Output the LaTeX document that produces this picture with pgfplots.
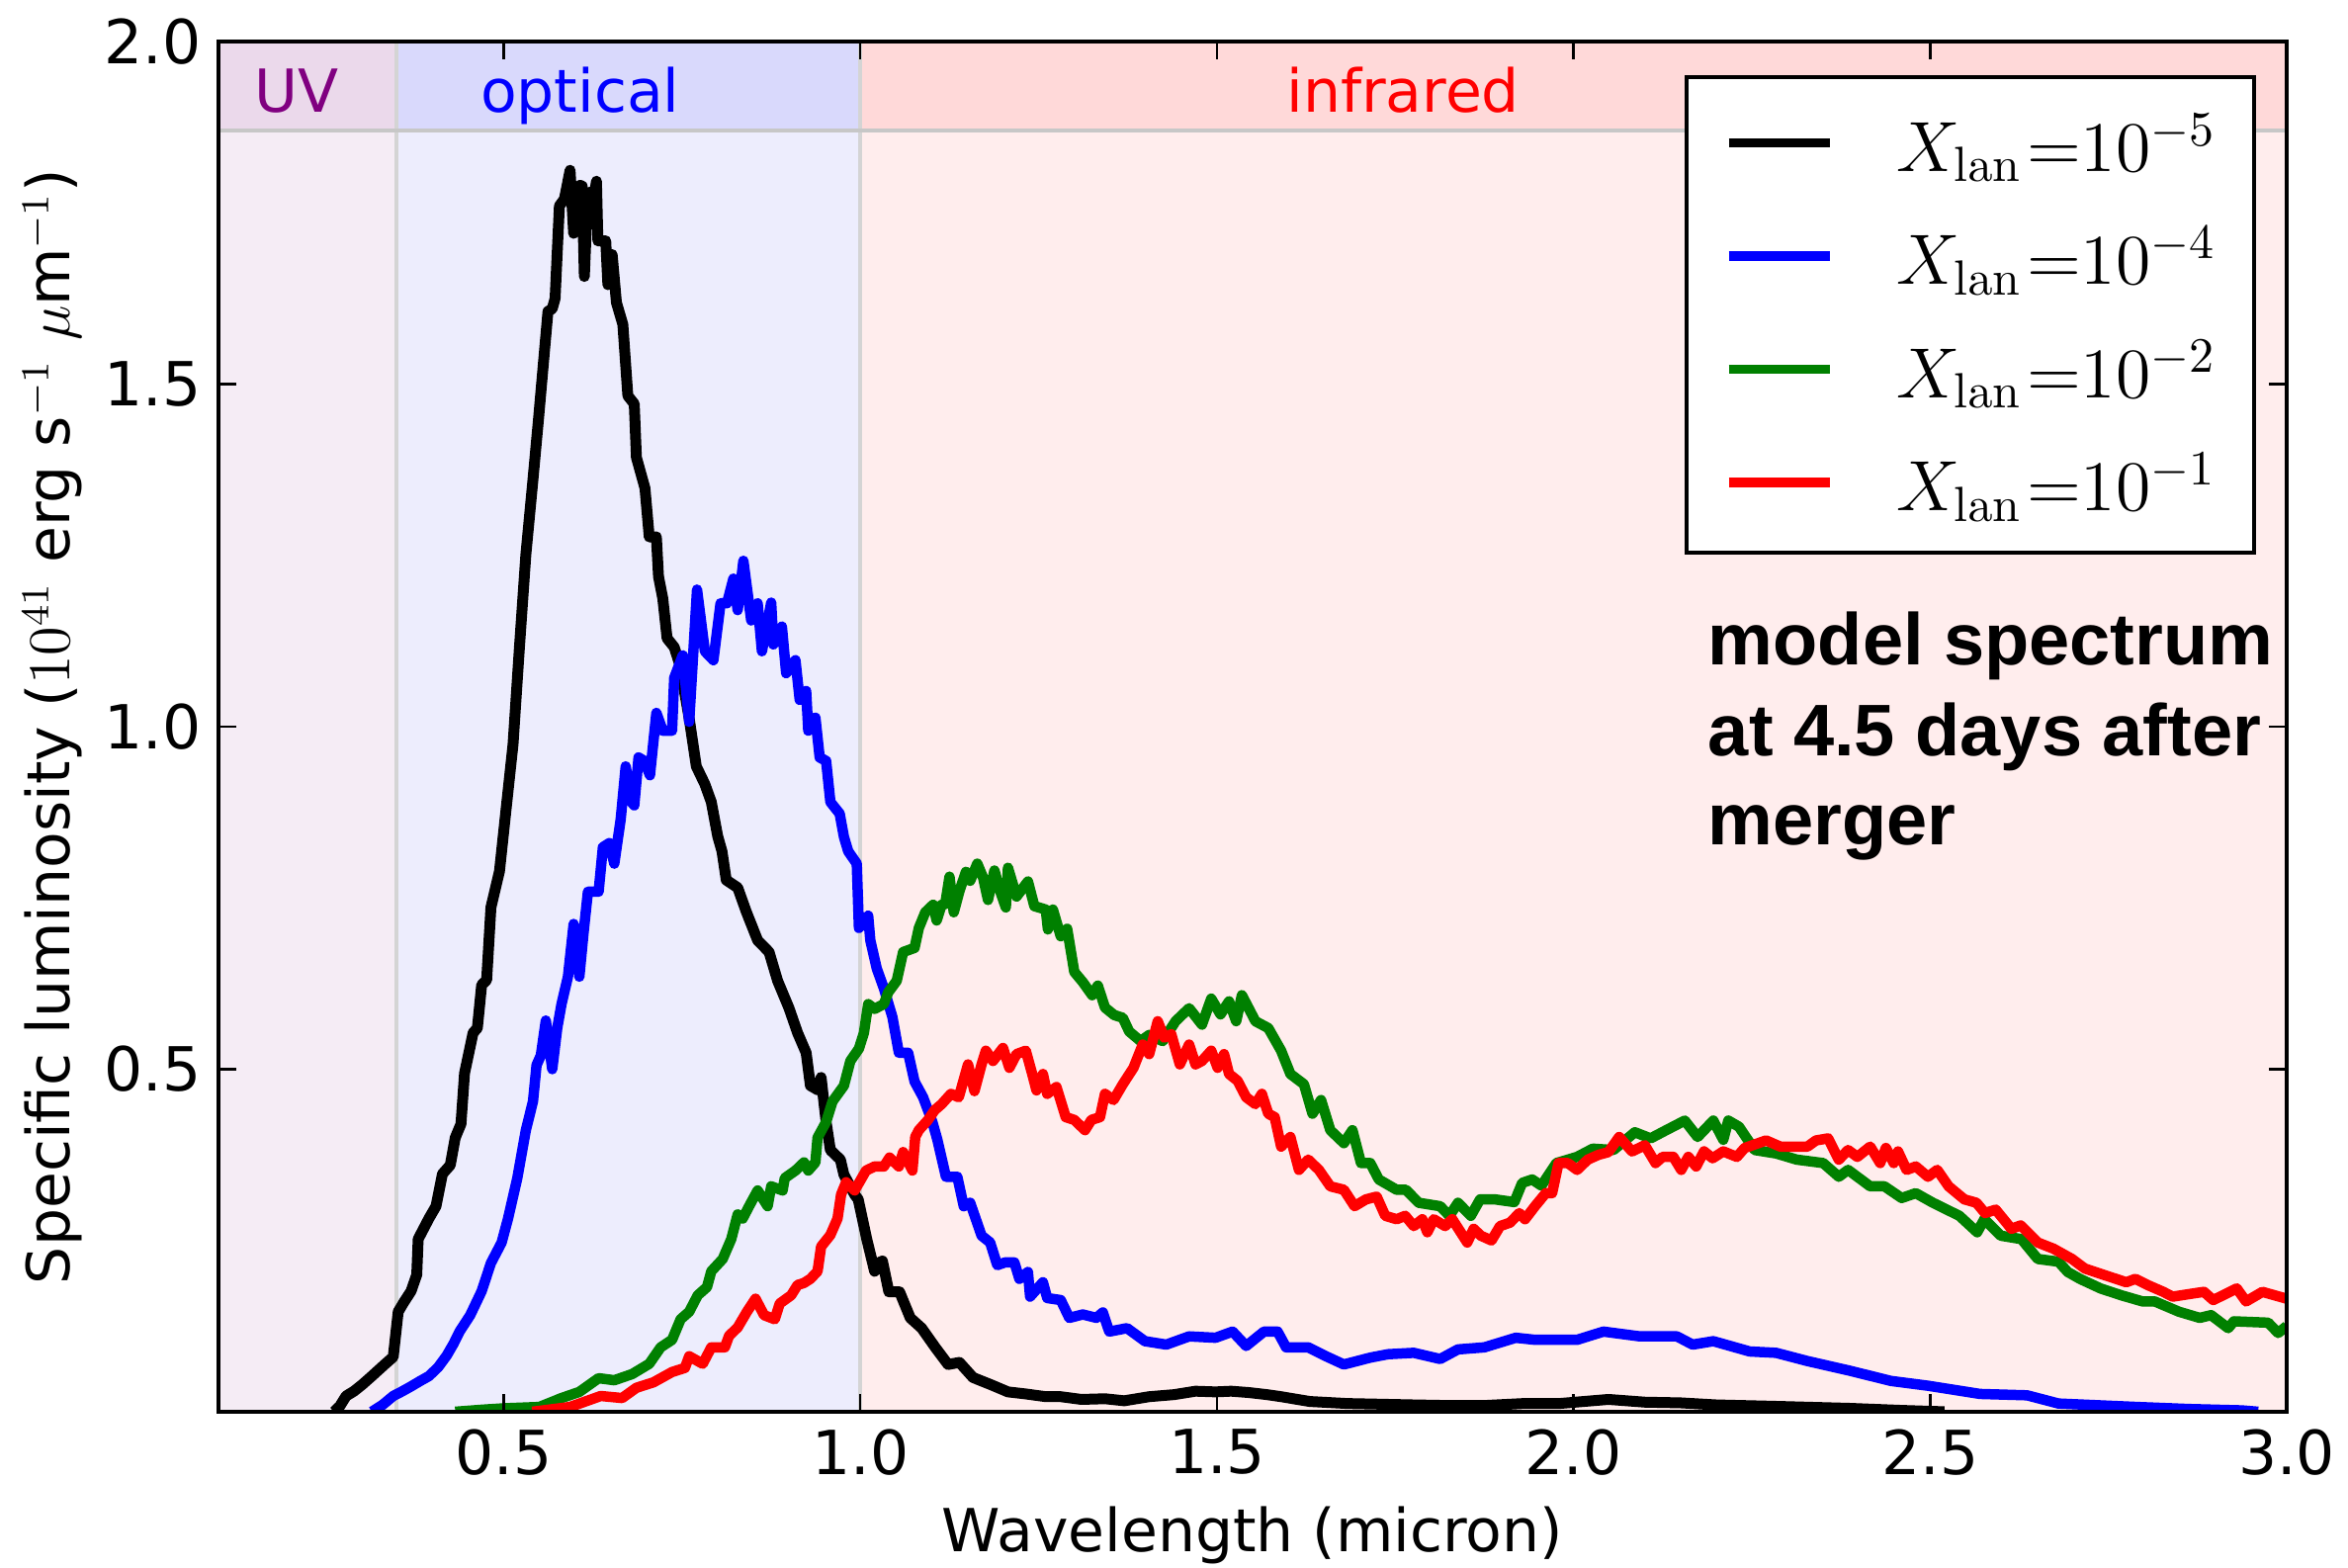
\documentclass[border=0pt]{standalone}
\usepackage{pgfplots}
\pgfplotsset{compat=1.18}
\usepackage[no-math]{fontspec}
\setmainfont{DejaVu Sans}
\newfontfamily\annofont{Liberation Sans}
\definecolor{uvlow}{HTML}{F5ECF5}
\definecolor{uvhigh}{HTML}{EBD9EB}
\definecolor{optlow}{HTML}{EDEDFD}
\definecolor{opthigh}{HTML}{D9D9FC}
\definecolor{irlow}{HTML}{FFEDED}
\definecolor{irhigh}{HTML}{FFD9D9}
\definecolor{mplgreen}{HTML}{008000}
\definecolor{mplpurple}{HTML}{800080}
\definecolor{sepgray}{HTML}{D4D4D4}
\newcommand{\leg}[1]{\rule[-3.5pt]{0pt}{15.5pt}$X_{\mathrm{lan}}\mkern1mu{=}10^{#1}$}
\begin{document}
\begin{tikzpicture}
\begin{axis}[
  scale only axis, width=418.4pt, height=277.2pt,
  xmin=0.1, xmax=3.0, ymin=0, ymax=2.0,
  xtick={0.5,1.0,1.5,2.0,2.5,3.0},
  ytick={0.5,1.0,1.5,2.0},
  tick align=inside,
  major tick length=3.6pt,
  every tick/.style={black, line width=0.5pt},
  axis line style={line width=0.9pt},
  axis on top,
  tick label style={font=\fontsize{12.3}{14}\selectfont},
  xticklabel style={/pgf/number format/.cd, fixed, fixed zerofill, precision=1, assume math mode=true},
  yticklabel style={/pgf/number format/.cd, fixed, fixed zerofill, precision=1, assume math mode=true},
  label style={font=\fontsize{12}{14}\selectfont},
  xlabel={Wavelength (micron)},
  ylabel={Specific luminosity ($10^{41}$ erg s$^{-1}$ $\mu$m$^{-1}$)},
  xlabel style={at={(axis description cs:0.5,-0.0902)}, anchor=center},
  ylabel style={at={(axis description cs:-0.0803,0.5)}, anchor=center},
  legend style={at={(axis description cs:0.9852,0.9755)}, anchor=north east,
    draw=black, line width=0.9pt, fill=white, inner xsep=7.6pt, inner ysep=7pt,
    row sep=9.4pt, nodes={inner sep=0pt, font=\fontsize{13.9}{17}\selectfont},
    /tikz/every odd column/.append style={column sep=12.6pt}},
  legend image code/.code={\draw[#1, line width=1.9pt] (0pt,0.5pt) -- (20.4pt,0.5pt);},
  legend cell align=left,
  every axis plot/.append style={line width=2.1pt, line join=round},
]
% bands
\fill[uvlow] (axis cs:0.1,0) rectangle (axis cs:0.35,1.87);
\fill[optlow] (axis cs:0.35,0) rectangle (axis cs:1.0,1.87);
\fill[irlow] (axis cs:1.0,0) rectangle (axis cs:3.0,1.87);
\fill[uvhigh] (axis cs:0.1,1.87) rectangle (axis cs:0.35,2.0);
\fill[opthigh] (axis cs:0.35,1.87) rectangle (axis cs:1.0,2.0);
\fill[irhigh] (axis cs:1.0,1.87) rectangle (axis cs:3.0,2.0);
\draw[sepgray, line width=0.8pt] (axis cs:0.35,0) -- (axis cs:0.35,2.0);
\draw[sepgray, line width=0.8pt] (axis cs:1.0,0) -- (axis cs:1.0,2.0);
\draw[black!22, line width=0.9pt] (axis cs:0.1,1.87) -- (axis cs:3.0,1.87);
\node[anchor=base, text=mplpurple, font=\fontsize{12}{14}\selectfont] at (axis cs:0.210,1.8975) {UV};
\node[anchor=base, text=blue, font=\fontsize{12}{14}\selectfont] at (axis cs:0.607,1.8975) {optical};
\node[anchor=base, text=red, font=\fontsize{12}{14}\selectfont] at (axis cs:1.761,1.8975) {infrared};

\addplot[black, line width=2.2pt] coordinates {
(0.262,0.000) (0.270,0.008) (0.279,0.023) (0.290,0.030) (0.302,0.040) (0.315,0.052) (0.333,0.069) (0.345,0.080)
(0.352,0.146) (0.360,0.160) (0.370,0.176) (0.378,0.200) (0.380,0.252) (0.395,0.282) (0.405,0.300) (0.414,0.347)
(0.425,0.360) (0.432,0.400) (0.440,0.420) (0.445,0.494) (0.457,0.553) (0.463,0.560) (0.469,0.623) (0.476,0.630)
(0.482,0.736) (0.494,0.789) (0.503,0.877) (0.513,0.974) (0.522,1.116) (0.531,1.251) (0.541,1.361) (0.549,1.452)
(0.556,1.535) (0.562,1.606) (0.568,1.610) (0.572,1.625) (0.578,1.760) (0.585,1.770) (0.593,1.812) (0.598,1.720)
(0.602,1.747) (0.607,1.790) (0.610,1.789) (0.613,1.657) (0.617,1.760) (0.621,1.780) (0.626,1.770) (0.630,1.796)
(0.632,1.709) (0.643,1.709) (0.646,1.645) (0.652,1.689) (0.658,1.619) (0.667,1.587) (0.674,1.483) (0.683,1.471)
(0.686,1.393) (0.698,1.348) (0.704,1.277) (0.714,1.277) (0.717,1.219) (0.723,1.187) (0.729,1.129) (0.739,1.116)
(0.747,1.090) (0.760,1.012) (0.770,0.942) (0.782,0.916) (0.791,0.890) (0.800,0.840) (0.806,0.818) (0.812,0.776)
(0.828,0.765) (0.840,0.730) (0.856,0.688) (0.872,0.671) (0.884,0.629) (0.900,0.589) (0.912,0.553) (0.924,0.524)
(0.930,0.476) (0.940,0.470) (0.945,0.488) (0.952,0.423) (0.958,0.382) (0.972,0.368) (0.977,0.346) (0.992,0.317)
(0.997,0.310) (1.009,0.252) (1.020,0.205) (1.027,0.218) (1.031,0.220) (1.040,0.175) (1.055,0.175) (1.070,0.137)
(1.086,0.122) (1.105,0.094) (1.123,0.069) (1.139,0.072) (1.158,0.050) (1.182,0.040) (1.207,0.029) (1.232,0.026)
(1.260,0.022) (1.281,0.022) (1.310,0.018) (1.343,0.019) (1.370,0.016) (1.405,0.022) (1.440,0.025) (1.470,0.030)
(1.498,0.029) (1.520,0.030) (1.545,0.028) (1.570,0.025) (1.590,0.022) (1.630,0.015) (1.683,0.012) (1.730,0.011)
(1.776,0.010) (1.830,0.009) (1.873,0.009) (1.930,0.012) (1.980,0.012) (2.049,0.018) (2.100,0.014) (2.150,0.013)
(2.200,0.010) (2.280,0.008) (2.387,0.005) (2.460,0.002) (2.520,0.000)
};
\addlegendentry{\leg{-5}}

\addplot[blue] coordinates {
(0.315,0.000) (0.330,0.010) (0.345,0.023) (0.358,0.030) (0.370,0.037) (0.383,0.045) (0.395,0.052) (0.408,0.065)
(0.420,0.082) (0.430,0.100) (0.438,0.117) (0.453,0.141) (0.469,0.176) (0.482,0.217) (0.497,0.247) (0.506,0.282)
(0.519,0.341) (0.531,0.411) (0.541,0.453) (0.546,0.506) (0.552,0.520) (0.559,0.571) (0.568,0.500) (0.575,0.560)
(0.581,0.595) (0.590,0.635) (0.598,0.712) (0.606,0.635) (0.612,0.700) (0.618,0.759) (0.633,0.759) (0.639,0.824)
(0.648,0.830) (0.655,0.800) (0.664,0.865) (0.671,0.942) (0.679,0.890) (0.683,0.885) (0.689,0.955) (0.697,0.950)
(0.705,0.929) (0.714,1.020) (0.723,0.994) (0.736,0.994) (0.739,1.071) (0.751,1.104) (0.760,1.007) (0.771,1.200)
(0.782,1.110) (0.794,1.097) (0.804,1.180) (0.813,1.180) (0.822,1.216) (0.828,1.170) (0.836,1.242) (0.847,1.155)
(0.856,1.180) (0.862,1.110) (0.875,1.181) (0.878,1.120) (0.890,1.146) (0.896,1.078) (0.909,1.097) (0.915,1.039)
(0.924,1.052) (0.927,0.994) (0.937,1.013) (0.943,0.955) (0.952,0.950) (0.958,0.890) (0.971,0.873) (0.977,0.839)
(0.983,0.818) (0.995,0.800) (0.998,0.706) (1.011,0.724) (1.014,0.688) (1.023,0.647) (1.033,0.618) (1.045,0.576)
(1.054,0.524) (1.067,0.524) (1.076,0.482) (1.088,0.459) (1.101,0.423) (1.108,0.397) (1.120,0.343) (1.136,0.343)
(1.145,0.300) (1.154,0.305) (1.170,0.257) (1.182,0.247) (1.192,0.214) (1.203,0.218) (1.216,0.218) (1.223,0.194)
(1.235,0.204) (1.238,0.168) (1.256,0.189) (1.262,0.166) (1.281,0.163) (1.293,0.137) (1.312,0.142) (1.331,0.137)
(1.340,0.145) (1.349,0.117) (1.374,0.122) (1.399,0.103) (1.429,0.098) (1.461,0.110) (1.498,0.108) (1.522,0.117)
(1.541,0.096) (1.566,0.117) (1.585,0.117) (1.597,0.094) (1.628,0.094) (1.653,0.081) (1.678,0.069) (1.715,0.079)
(1.740,0.084) (1.776,0.086) (1.813,0.077) (1.838,0.091) (1.875,0.094) (1.919,0.108) (1.946,0.105) (2.005,0.105)
(2.042,0.117) (2.093,0.110) (2.145,0.110) (2.167,0.098) (2.196,0.103) (2.247,0.088) (2.284,0.086) (2.328,0.074)
(2.387,0.060) (2.445,0.045) (2.497,0.038) (2.570,0.026) (2.636,0.024) (2.680,0.012) (2.790,0.007) (2.863,0.004)
(2.937,0.002) (2.960,0.000)
};
\addlegendentry{\leg{-4}}

\addplot[mplgreen] coordinates {
(0.432,0.000) (0.470,0.003) (0.500,0.005) (0.550,0.007) (0.581,0.020) (0.606,0.029) (0.633,0.049) (0.655,0.046)
(0.680,0.055) (0.704,0.070) (0.720,0.094) (0.736,0.105) (0.748,0.135) (0.760,0.146) (0.772,0.170) (0.785,0.182)
(0.791,0.205) (0.807,0.223) (0.819,0.252) (0.828,0.288) (0.835,0.282) (0.844,0.300) (0.856,0.323) (0.870,0.300)
(0.875,0.329) (0.891,0.323) (0.894,0.341) (0.909,0.352) (0.921,0.364) (0.927,0.352) (0.937,0.364) (0.940,0.400)
(0.952,0.423) (0.961,0.453) (0.977,0.476) (0.986,0.512) (0.998,0.530) (1.005,0.553) (1.011,0.595) (1.020,0.588)
(1.033,0.595) (1.039,0.612) (1.051,0.629) (1.060,0.671) (1.076,0.677) (1.082,0.706) (1.091,0.729) (1.102,0.740)
(1.107,0.717) (1.114,0.740) (1.119,0.741) (1.125,0.781) (1.131,0.729) (1.139,0.760) (1.148,0.788) (1.154,0.775)
(1.164,0.800) (1.172,0.780) (1.179,0.747) (1.188,0.790) (1.196,0.760) (1.204,0.736) (1.207,0.794) (1.219,0.752)
(1.235,0.774) (1.244,0.738) (1.260,0.733) (1.263,0.704) (1.270,0.733) (1.281,0.694) (1.290,0.705) (1.300,0.642)
(1.312,0.627) (1.325,0.608) (1.333,0.622) (1.343,0.590) (1.356,0.579) (1.368,0.575) (1.377,0.555) (1.393,0.541)
(1.405,0.550) (1.424,0.541) (1.442,0.570) (1.461,0.589) (1.479,0.565) (1.492,0.603) (1.505,0.580) (1.517,0.599)
(1.527,0.570) (1.535,0.608) (1.554,0.570) (1.572,0.560) (1.590,0.527) (1.603,0.493) (1.622,0.478) (1.634,0.435)
(1.646,0.455) (1.659,0.411) (1.678,0.392) (1.690,0.411) (1.702,0.363) (1.715,0.363) (1.727,0.339) (1.752,0.324)
(1.765,0.324) (1.783,0.305) (1.813,0.300) (1.826,0.286) (1.838,0.305) (1.856,0.286) (1.869,0.310) (1.890,0.310)
(1.917,0.306) (1.928,0.334) (1.942,0.339) (1.955,0.330) (1.976,0.363) (2.005,0.372) (2.027,0.384) (2.056,0.382)
(2.086,0.408) (2.108,0.399) (2.130,0.411) (2.156,0.425) (2.174,0.401) (2.196,0.425) (2.210,0.397) (2.217,0.425)
(2.232,0.416) (2.254,0.382) (2.284,0.377) (2.313,0.368) (2.350,0.363) (2.372,0.343) (2.385,0.353) (2.416,0.329)
(2.436,0.329) (2.460,0.312) (2.480,0.319) (2.504,0.305) (2.541,0.286) (2.566,0.262) (2.576,0.281) (2.599,0.257)
(2.628,0.252) (2.651,0.223) (2.680,0.219) (2.693,0.204) (2.710,0.194) (2.739,0.180) (2.768,0.170) (2.798,0.161)
(2.815,0.161) (2.849,0.146) (2.878,0.137) (2.894,0.141) (2.918,0.122) (2.926,0.132) (2.974,0.130) (2.988,0.115)
(3.000,0.125)
};
\addlegendentry{\leg{-2}}

\addplot[red] coordinates {
(0.540,0.000) (0.593,0.007) (0.636,0.023) (0.666,0.020) (0.686,0.035) (0.710,0.043) (0.736,0.058) (0.754,0.064)
(0.760,0.081) (0.779,0.070) (0.791,0.094) (0.810,0.094) (0.816,0.111) (0.828,0.123) (0.841,0.146) (0.853,0.165)
(0.865,0.141) (0.880,0.135) (0.887,0.158) (0.903,0.170) (0.912,0.185) (0.921,0.188) (0.930,0.194) (0.940,0.205)
(0.945,0.241) (0.958,0.258) (0.968,0.282) (0.973,0.317) (0.980,0.335) (0.992,0.323) (1.008,0.352) (1.020,0.358)
(1.033,0.358) (1.041,0.371) (1.054,0.358) (1.060,0.379) (1.073,0.352) (1.077,0.401) (1.082,0.411) (1.095,0.426)
(1.104,0.440) (1.114,0.449) (1.127,0.464) (1.138,0.459) (1.151,0.507) (1.160,0.468) (1.170,0.507) (1.176,0.527)
(1.186,0.512) (1.200,0.531) (1.209,0.502) (1.219,0.522) (1.232,0.527) (1.241,0.493) (1.247,0.469) (1.256,0.493)
(1.262,0.464) (1.275,0.474) (1.288,0.430) (1.300,0.426) (1.315,0.411) (1.324,0.426) (1.336,0.430) (1.343,0.464)
(1.355,0.455) (1.368,0.478) (1.383,0.502) (1.396,0.536) (1.405,0.522) (1.417,0.570) (1.426,0.546) (1.436,0.551)
(1.448,0.507) (1.461,0.536) (1.470,0.507) (1.479,0.512) (1.492,0.527) (1.501,0.502) (1.510,0.522) (1.517,0.493)
(1.529,0.483) (1.541,0.459) (1.554,0.449) (1.563,0.464) (1.572,0.435) (1.581,0.430) (1.590,0.387) (1.603,0.401)
(1.615,0.353) (1.628,0.368) (1.643,0.353) (1.659,0.329) (1.678,0.324) (1.693,0.300) (1.709,0.310) (1.724,0.314)
(1.736,0.286) (1.752,0.281) (1.764,0.286) (1.776,0.271) (1.788,0.281) (1.795,0.262) (1.804,0.281) (1.820,0.271)
(1.830,0.281) (1.851,0.247) (1.860,0.267) (1.870,0.257) (1.885,0.250) (1.897,0.271) (1.911,0.276) (1.924,0.290)
(1.932,0.281) (1.946,0.300) (1.961,0.319) (1.970,0.319) (1.979,0.363) (1.992,0.363) (2.005,0.353) (2.020,0.368)
(2.035,0.375) (2.049,0.379) (2.064,0.401) (2.082,0.380) (2.100,0.389) (2.115,0.363) (2.125,0.372) (2.140,0.372)
(2.151,0.353) (2.161,0.372) (2.172,0.358) (2.183,0.380) (2.195,0.370) (2.210,0.380) (2.229,0.372) (2.240,0.385)
(2.270,0.396) (2.290,0.387) (2.328,0.387) (2.340,0.396) (2.357,0.399) (2.372,0.368) (2.385,0.382) (2.398,0.372)
(2.416,0.387) (2.430,0.363) (2.438,0.385) (2.449,0.363) (2.455,0.380) (2.467,0.353) (2.480,0.358) (2.497,0.343)
(2.510,0.353) (2.526,0.329) (2.548,0.310) (2.565,0.305) (2.577,0.290) (2.592,0.295) (2.614,0.267) (2.627,0.272)
(2.651,0.247) (2.673,0.238) (2.699,0.223) (2.717,0.209) (2.746,0.199) (2.775,0.189) (2.788,0.194) (2.805,0.185)
(2.827,0.175) (2.840,0.168) (2.871,0.173) (2.884,0.175) (2.897,0.163) (2.930,0.180) (2.943,0.161) (2.966,0.175)
(3.000,0.165)
};
\addlegendentry{\leg{-1}}

\node[anchor=base west, inner sep=0pt, font=\annofont\bfseries\fontsize{14.8}{18}\selectfont] at (axis cs:2.1875,1.0895) {model spectrum};
\node[anchor=base west, inner sep=0pt, font=\annofont\bfseries\fontsize{14.8}{18}\selectfont] at (axis cs:2.1875,0.958) {at 4.5 days after};
\node[anchor=base west, inner sep=0pt, font=\annofont\bfseries\fontsize{14.8}{18}\selectfont] at (axis cs:2.1875,0.8268) {merger};
\end{axis}
\pgfresetboundingbox
\useasboundingbox (-44.2pt,-31.6pt) rectangle (430.8pt,285.6pt);
\end{tikzpicture}
\end{document}
